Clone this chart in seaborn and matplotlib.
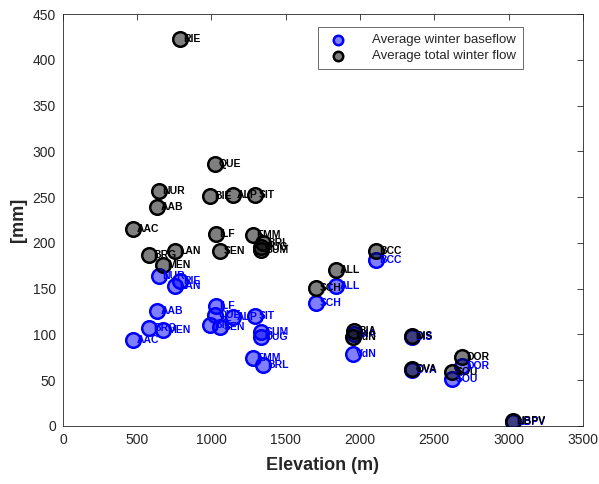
import pandas as pd
import seaborn as sns
import matplotlib.pyplot as plt

stations = ["AAC", "AAB", "NUR", "BRG", "MEN", "LAN", "RIE", "BIE", "ILF", "QUE",
            "SEN", "ALP", "EMM", "SIT", "GUM", "OUG", "BRL", "SCH", "ALL", "BIA",
            "VdN", "BCC", "DIS", "OVA", "SOU", "DOR", "NBPV"]
elevation = [471, 633, 646, 582, 676, 758, 785, 993, 1030, 1025,
             1058, 1148, 1279, 1292, 1336, 1336, 1350, 1706, 1840, 1960,
             1950, 2107, 2349, 2349, 2618, 2690, 3029]
baseflow = [94, 126, 164, 107, 105, 153, 158, 110, 131, 121,
            108, 119, 74, 120, 103, 97, 67, 134, 153, 100,
            79, 181, 97, 61, 51, 65, 4]
totalflow = [215, 239, 257, 187, 176, 191, 423, 251, 210, 286,
             191, 252, 209, 252, 192, 196, 200, 151, 170, 104,
             97, 191, 98, 62, 59, 75, 5]

df = pd.DataFrame({"station": stations, "elevation": elevation,
                   "baseflow": baseflow, "total": totalflow})

sns.set_theme(style="white")
plt.rcParams["font.family"] = ["Liberation Sans", "DejaVu Sans"]

fig = plt.figure(figsize=(5.99, 4.84), dpi=100)
ax = fig.add_axes([0.105, 0.120, 0.868, 0.851])

sns.scatterplot(data=df, x="elevation", y="baseflow", ax=ax, s=110,
                color=(0.0, 0.0, 1.0, 0.5), edgecolor="#0000ff", linewidth=1.8,
                label="Average winter baseflow", zorder=3)
sns.scatterplot(data=df, x="elevation", y="total", ax=ax, s=110,
                color=(0.0, 0.0, 0.0, 0.5), edgecolor="black", linewidth=1.8,
                label="Average total winter flow", zorder=3)

for _, r in df.iterrows():
    ax.text(r["elevation"] + 25, r["baseflow"], r["station"], color="#0000ff",
            fontsize=7.5, fontweight="bold", va="center", ha="left", zorder=4)
    ax.text(r["elevation"] + 25, r["total"], r["station"], color="black",
            fontsize=7.5, fontweight="bold", va="center", ha="left", zorder=4)

ax.set_xlim(0, 3500)
ax.set_ylim(0, 450)
ax.set_xticks(range(0, 3501, 500))
ax.set_yticks(range(0, 451, 50))
ax.tick_params(direction="in", length=4, top=True, right=True, labelsize=10,
               colors="#262626", width=0.6, pad=5)
for sp in ax.spines.values():
    sp.set_color("#262626")
    sp.set_linewidth(0.6)

ax.set_xlabel("Elevation (m)", fontsize=13, fontweight="bold", color="#262626",
              labelpad=7)
ax.set_ylabel("[mm]", fontsize=13, fontweight="bold", color="#262626")

leg = ax.legend(loc="upper right", bbox_to_anchor=(0.885, 0.968), fontsize=9.5,
                frameon=True, fancybox=False, edgecolor="#262626",
                borderaxespad=0, markerscale=0.65,
                handletextpad=1.6, borderpad=0.5, labelspacing=0.3)
leg.get_frame().set_linewidth(0.6)

fig.savefig("out.png", dpi=100)
